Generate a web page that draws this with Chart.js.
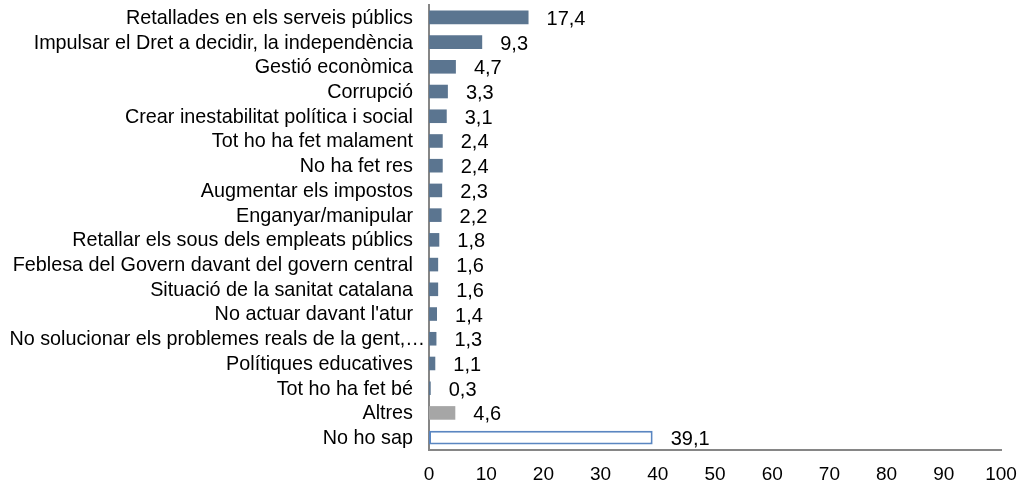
<!DOCTYPE html>
<html>
<head>
<meta charset="utf-8">
<script src="https://cdn.jsdelivr.net/npm/chart.js@4"></script>
<style>
  html, body { margin: 0; padding: 0; background: #fff; }
  #wrap { width: 1027px; height: 488px; }
</style>
</head>
<body>
<div id="wrap"><canvas id="chart"></canvas></div>
<script>
// categories (top → bottom) and values (%)
const categories = [
  'Retallades en els serveis públics',
  'Impulsar el Dret a decidir, la independència',
  'Gestió econòmica',
  'Corrupció',
  'Crear inestabilitat política i social',
  'Tot ho ha fet malament',
  'No ha fet res',
  'Augmentar els impostos',
  'Enganyar/manipular',
  'Retallar els sous dels empleats públics',
  'Feblesa del Govern davant del govern central',
  'Situació de la sanitat catalana',
  "No actuar davant l'atur",
  'No solucionar els problemes reals de la gent,…',
  'Polítiques educatives',
  'Tot ho ha fet bé',
  'Altres',
  'No ho sap'
];
const values = [17.4, 9.3, 4.7, 3.3, 3.1, 2.4, 2.4, 2.3, 2.2, 1.8, 1.6, 1.6, 1.4, 1.3, 1.1, 0.3, 4.6, 39.1];
const xTicks = [0, 10, 20, 30, 40, 50, 60, 70, 80, 90, 100];

const FONT = 'Arial, "Liberation Sans", sans-serif';
const fills = categories.map(c => c === 'Altres' ? '#A6A6A6' : c === 'No ho sap' ? '#FFFFFF' : '#5B7590');
const borders = categories.map(c => c === 'No ho sap' ? '#5A86C1' : 'rgba(0,0,0,0)');
const borderW = categories.map(c => c === 'No ho sap' ? 2 : 0);

// etiquetes de categoria (l'etiqueta truncada queda més a la dreta, com a l'original)
const categoryLabels = {
  id: 'categoryLabels',
  afterDraw(chart) {
    const { ctx, chartArea, scales: { y } } = chart;
    ctx.save();
    ctx.font = '19.8px ' + FONT;
    ctx.fillStyle = '#000';
    ctx.textAlign = 'right';
    ctx.textBaseline = 'middle';
    categories.forEach((c, i) => {
      const gap = c.endsWith('…') ? 4 : 16;
      ctx.fillText(c, chartArea.left - gap, y.getPixelForTick(i) + 1);
    });
    ctx.restore();
  }
};

// etiquetes de valor amb coma decimal
const valueLabels = {
  id: 'valueLabels',
  afterDatasetsDraw(chart) {
    const { ctx } = chart;
    const meta = chart.getDatasetMeta(0);
    ctx.save();
    ctx.font = '20px ' + FONT;
    ctx.fillStyle = '#000';
    ctx.textBaseline = 'middle';
    ctx.textAlign = 'left';
    meta.data.forEach((bar, i) => {
      ctx.fillText(values[i].toFixed(1).replace('.', ','), bar.x + 18, bar.y + 2);
    });
    ctx.restore();
  }
};

new Chart(document.getElementById('chart'), {
  type: 'bar',
  data: {
    labels: categories,
    datasets: [{
      data: values,
      backgroundColor: fills,
      borderColor: borders,
      borderWidth: borderW,
      borderSkipped: false,
      barPercentage: 0.55,
      categoryPercentage: 1
    }]
  },
  options: {
    indexAxis: 'y',
    responsive: true,
    maintainAspectRatio: false,
    animation: false,
    layout: { padding: { top: 5, right: 26, left: 0, bottom: 0 } },
    plugins: { legend: { display: false }, tooltip: { enabled: false } },
    scales: {
      x: {
        min: 0, max: 100,
        afterBuildTicks: axis => { axis.ticks = xTicks.map(v => ({ value: v })); },
        afterFit: axis => { axis.height = 38; axis.paddingRight = 0; axis.paddingLeft = 0; },
        grid: { display: false, drawTicks: false },
        border: { display: true, color: '#868686', width: 2 },
        ticks: { color: '#000', font: { size: 19, family: FONT }, padding: 13, maxRotation: 0 }
      },
      y: {
        afterFit: axis => { axis.width = 429; },
        grid: { display: false, drawTicks: false },
        border: { display: true, color: '#868686', width: 2 },
        ticks: { display: false }
      }
    }
  },
  plugins: [valueLabels, categoryLabels]
});
</script>
</body>
</html>
